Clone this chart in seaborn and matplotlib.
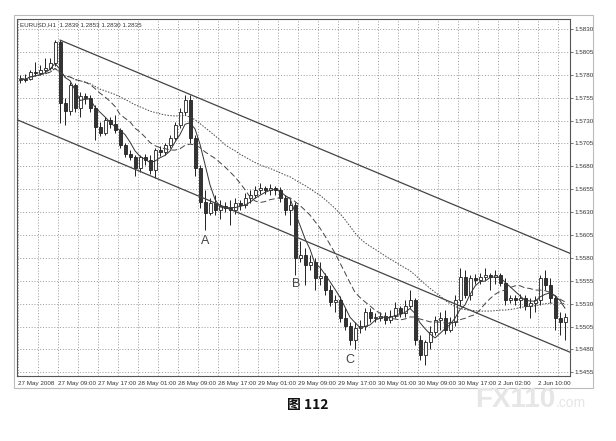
import numpy as np
import pandas as pd
import seaborn as sns
import matplotlib.pyplot as plt
from matplotlib.patches import Rectangle

# estilo
sns.set_style("white")
plt.rcParams['font.family'] = ['Liberation Sans', 'Noto Sans CJK SC', 'DejaVu Sans']

# ---- datos EURUSD H1 ----
opens = [1.5774, 1.5776, 1.5775, 1.5783, 1.5782, 1.5785, 1.5787, 1.5793, 1.5816, 1.5749,
         1.5741, 1.5769, 1.5744, 1.5757, 1.5755, 1.5744, 1.5723, 1.5717, 1.5731, 1.5726,
         1.5720, 1.5703, 1.5694, 1.5690, 1.5678, 1.5690, 1.5687, 1.5676, 1.5698, 1.5696,
         1.5703, 1.5711, 1.5725, 1.5739, 1.5752, 1.5711, 1.5678, 1.5641, 1.5629, 1.5640,
         1.5632, 1.5637, 1.5634, 1.5632, 1.5640, 1.5638, 1.5645, 1.5649, 1.5654, 1.5656,
         1.5654, 1.5656, 1.5654, 1.5645, 1.5632, 1.5638, 1.5580, 1.5583, 1.5572, 1.5575,
         1.5558, 1.5560, 1.5545, 1.5532, 1.5534, 1.5514, 1.5506, 1.5490, 1.5503, 1.5506,
         1.5521, 1.5514, 1.5514, 1.5516, 1.5512, 1.5517, 1.5525, 1.5520, 1.5528, 1.5534,
         1.5490, 1.5474, 1.5488, 1.5499, 1.5512, 1.5514, 1.5501, 1.5510, 1.5534, 1.5559,
         1.5539, 1.5558, 1.5556, 1.5559, 1.5561, 1.5559, 1.5561, 1.5553, 1.5534, 1.5536,
         1.5534, 1.5536, 1.5528, 1.5531, 1.5534, 1.5558, 1.5550, 1.5536, 1.5514, 1.5510]
closes = [1.5776, 1.5774, 1.5783, 1.5782, 1.5785, 1.5787, 1.5793, 1.5816, 1.5749, 1.5741,
          1.5769, 1.5744, 1.5757, 1.5755, 1.5744, 1.5723, 1.5717, 1.5731, 1.5726, 1.5720,
          1.5703, 1.5694, 1.5690, 1.5678, 1.5690, 1.5687, 1.5676, 1.5698, 1.5696, 1.5703,
          1.5711, 1.5725, 1.5739, 1.5752, 1.5711, 1.5678, 1.5641, 1.5629, 1.5640, 1.5632,
          1.5637, 1.5634, 1.5632, 1.5640, 1.5638, 1.5645, 1.5649, 1.5654, 1.5656, 1.5654,
          1.5656, 1.5654, 1.5645, 1.5632, 1.5638, 1.5580, 1.5583, 1.5572, 1.5575, 1.5558,
          1.5560, 1.5545, 1.5532, 1.5534, 1.5514, 1.5506, 1.5490, 1.5503, 1.5506, 1.5521,
          1.5514, 1.5515, 1.5516, 1.5512, 1.5517, 1.5525, 1.5520, 1.5528, 1.5534, 1.5490,
          1.5474, 1.5488, 1.5499, 1.5512, 1.5514, 1.5501, 1.5510, 1.5534, 1.5559, 1.5539,
          1.5558, 1.5556, 1.5559, 1.5561, 1.5559, 1.5561, 1.5553, 1.5534, 1.5536, 1.5534,
          1.5536, 1.5528, 1.5531, 1.5534, 1.5558, 1.5550, 1.5536, 1.5514, 1.5510, 1.5515]
highs = [1.5780, 1.5781, 1.5785, 1.5794, 1.5791, 1.5798, 1.5798, 1.5818, 1.5818, 1.5755,
         1.5772, 1.5771, 1.5761, 1.5760, 1.5758, 1.5747, 1.5728, 1.5734, 1.5734, 1.5736,
         1.5722, 1.5706, 1.5698, 1.5692, 1.5692, 1.5693, 1.5692, 1.5700, 1.5702, 1.5705,
         1.5714, 1.5728, 1.5744, 1.5758, 1.5758, 1.5714, 1.5681, 1.5654, 1.5645, 1.5649,
         1.5643, 1.5641, 1.5643, 1.5645, 1.5643, 1.5651, 1.5654, 1.5659, 1.5662, 1.5659,
         1.5661, 1.5659, 1.5658, 1.5649, 1.5643, 1.5641, 1.5599, 1.5591, 1.5583, 1.5580,
         1.5575, 1.5564, 1.5550, 1.5539, 1.5538, 1.5525, 1.5510, 1.5510, 1.5512, 1.5525,
         1.5525, 1.5520, 1.5521, 1.5521, 1.5523, 1.5532, 1.5528, 1.5534, 1.5545, 1.5536,
         1.5496, 1.5490, 1.5506, 1.5517, 1.5521, 1.5523, 1.5516, 1.5539, 1.5569, 1.5567,
         1.5561, 1.5562, 1.5564, 1.5569, 1.5564, 1.5567, 1.5564, 1.5558, 1.5540, 1.5540,
         1.5541, 1.5539, 1.5536, 1.5538, 1.5561, 1.5567, 1.5558, 1.5540, 1.5521, 1.5520]
lows = [1.5771, 1.5772, 1.5774, 1.5779, 1.5780, 1.5783, 1.5785, 1.5790, 1.5727, 1.5725,
        1.5736, 1.5739, 1.5734, 1.5748, 1.5739, 1.5709, 1.5713, 1.5714, 1.5722, 1.5716,
        1.5700, 1.5690, 1.5687, 1.5670, 1.5674, 1.5682, 1.5672, 1.5667, 1.5691, 1.5692,
        1.5700, 1.5709, 1.5722, 1.5736, 1.5706, 1.5670, 1.5634, 1.5610, 1.5627, 1.5627,
        1.5623, 1.5630, 1.5616, 1.5628, 1.5632, 1.5634, 1.5640, 1.5645, 1.5650, 1.5650,
        1.5649, 1.5649, 1.5641, 1.5627, 1.5616, 1.5561, 1.5575, 1.5550, 1.5567, 1.5545,
        1.5550, 1.5539, 1.5527, 1.5521, 1.5510, 1.5501, 1.5485, 1.5481, 1.5498, 1.5501,
        1.5510, 1.5510, 1.5511, 1.5508, 1.5509, 1.5514, 1.5516, 1.5516, 1.5525, 1.5485,
        1.5468, 1.5463, 1.5481, 1.5496, 1.5501, 1.5497, 1.5499, 1.5506, 1.5528, 1.5536,
        1.5534, 1.5551, 1.5552, 1.5556, 1.5545, 1.5552, 1.5549, 1.5529, 1.5531, 1.5529,
        1.5525, 1.5523, 1.5514, 1.5521, 1.5529, 1.5545, 1.5531, 1.5501, 1.5496, 1.5490]

# líneas del canal (índice de barra, precio)
canal_sup_x = [8, 110]
canal_sup_y = [1.5818, 1.5585]
canal_inf_x = [-0.6, 110]
canal_inf_y = [1.5731, 1.5477]

# etiquetas de puntos
puntos_txt = ["A", "B", "C"]
puntos_x = [37, 55.2, 66]
puntos_y = [1.5599, 1.5552, 1.5468]

fechas = ["27 May 2008", "27 May 09:00", "27 May 17:00", "28 May 01:00", "28 May 09:00",
          "28 May 17:00", "29 May 01:00", "29 May 09:00", "29 May 17:00", "30 May 01:00",
          "30 May 09:00", "30 May 17:00", "2 Jun 02:00", "2 Jun 10:00"]
precios_ticks = [1.5455, 1.5480, 1.5505, 1.5530, 1.5555, 1.5580, 1.5605, 1.5630,
                 1.5655, 1.5680, 1.5705, 1.5730, 1.5755, 1.5780, 1.5805, 1.5830]

df = pd.DataFrame({"open": opens, "high": highs, "low": lows, "close": closes})
df["barra"] = np.arange(len(df))
df["ma_rapida"] = df["close"].rolling(5, min_periods=1).mean()
df["ma_media"] = df["close"].rolling(13, min_periods=1).mean()
df["ma_lenta"] = df["close"].rolling(34, min_periods=1).mean()

# ---- figura ----
fig = plt.figure(figsize=(6.16, 4.41), dpi=100)
ax = fig.add_axes([17/616, 1 - 376/441, 553/616, 357/441])

# rejilla punteada
for p in precios_ticks:
    ax.axhline(p, color="#8a8a8a", lw=0.6, ls=(0, (1.2, 2.2)), zorder=0)
for gx in np.arange(-0.4, 110, 4):
    ax.axvline(gx, color="#8a8a8a", lw=0.6, ls=(0, (1.2, 2.2)), zorder=0)

# velas
sube = df["close"] >= df["open"]
ax.vlines(df["barra"], df["low"], df["high"], color="#222222", lw=0.7, zorder=2)
cuerpo = (df["close"] - df["open"]).abs().clip(lower=0.00005)
base = df[["open", "close"]].min(axis=1)
ax.bar(df["barra"][sube], cuerpo[sube], bottom=base[sube], width=0.6,
       color="white", edgecolor="#222222", linewidth=0.6, zorder=3)
ax.bar(df["barra"][~sube], cuerpo[~sube], bottom=base[~sube], width=0.6,
       color="#333333", edgecolor="#222222", linewidth=0.6, zorder=3)

# medias móviles
sns.lineplot(data=df, x="barra", y="ma_rapida", ax=ax, color="#333333", lw=0.7, zorder=4)
sns.lineplot(data=df, x="barra", y="ma_media", ax=ax, color="#444444", lw=0.7,
             linestyle=(0, (6, 3)), zorder=4)
sns.lineplot(data=df, x="barra", y="ma_lenta", ax=ax, color="#444444", lw=0.7,
             linestyle=(0, (1.5, 1.5)), zorder=4)

# canal
ax.plot(canal_sup_x, canal_sup_y, color="#444444", lw=0.9, zorder=5)
ax.plot(canal_inf_x, canal_inf_y, color="#444444", lw=0.9, zorder=5)

for t, x, y in zip(puntos_txt, puntos_x, puntos_y):
    ax.text(x, y, t, fontsize=9, color="#444444", ha="center", va="center", zorder=6)

ax.text(0.006, 0.992, "EURUSD,H1  1.2839 1.2853 1.2830 1.2835", transform=ax.transAxes,
        fontsize=4.5, va="top", ha="left", color="#333333")

ax.set_xlim(-0.6, 110)
ax.set_ylim(1.5451, 1.5841)
ax.set_xlabel("")
ax.set_ylabel("")

ax.yaxis.tick_right()
ax.set_yticks(precios_ticks)
ax.set_yticklabels([f"{p:.4f}" for p in precios_ticks], fontsize=4.5, color="#333333")
ax.set_xticks(np.arange(len(fechas)) * 8 - 0.4)
ax.set_xticklabels(fechas, fontsize=4.5, color="#333333", ha="left")
ax.tick_params(axis="both", length=2, width=0.5, pad=1.5, color="#444444")
for s in ax.spines.values():
    s.set_color("#555555")
    s.set_linewidth(0.8)

# marco exterior
fig.patches.append(Rectangle((14/616, 1 - 388/441), 579/616, 373/441, transform=fig.transFigure,
                             fill=False, edgecolor="#bbbbbb", linewidth=0.8))

# pie de figura y marca de agua
fig.text(0.5, 1 - 405/441, "图 112", ha="center", va="center", fontsize=10, fontweight="bold",
         family=["Noto Sans CJK SC", "DejaVu Sans"], color="#111111")
fig.text(555/616, 1 - 400/441, "FX110", ha="right", va="center", fontsize=20, fontweight="bold",
         color="#e6e6e6")
fig.text(556/616, 1 - 403/441, ".com", ha="left", va="center", fontsize=10, color="#e6e6e6")

fig.savefig("out.png", dpi=100)
